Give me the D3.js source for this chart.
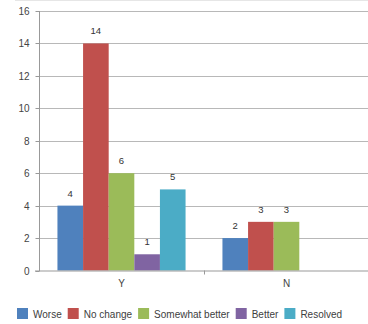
<!DOCTYPE html>
<html><head><meta charset="utf-8">
<script src="https://cdn.jsdelivr.net/npm/d3@7"></script>
<style>body{margin:0;background:#fff}svg{display:block}text{font-family:"Liberation Sans",Arial,sans-serif}</style>
</head><body><svg id="c" width="368" height="324"></svg>
<script>
const categories = ["Y", "N"];
const seriesNames = ["Worse", "No change", "Somewhat better", "Better", "Resolved"];
const seriesColors = ["#4F81BD", "#C0504D", "#9BBB59", "#8064A2", "#4BACC6"];
const worse = [4, 2];
const noChange = [14, 3];
const somewhatBetter = [6, 3];
const better = [1, 0];
const resolved = [5, 0];
const yTicks = [0, 2, 4, 6, 8, 10, 12, 14, 16];

const seriesValues = [worse, noChange, somewhatBetter, better, resolved];
const svg = d3.select("#c");
const mLeft = 39, mRight = 369, mTop = 11, mBottom = 270.5;

svg.append("line").attr("x1", 15).attr("x2", 368).attr("y1", 0.5).attr("y2", 0.5)
  .attr("stroke", "#e6e6e6");

const y = d3.scaleLinear().domain([0, 16]).range([mBottom, mTop]);
const x0 = d3.scaleBand().domain(categories).range([mLeft, mRight]);
const x1 = d3.scaleBand().domain(seriesNames).range([0, x0.bandwidth()]).paddingInner(0).paddingOuter(0.72);

// gridlines
svg.append("g").selectAll("line").data(yTicks.filter(t => t > 0)).join("line")
  .attr("x1", mLeft).attr("x2", 368)
  .attr("y1", d => Math.round(y(d)) + 0.5).attr("y2", d => Math.round(y(d)) + 0.5)
  .attr("stroke", "#b8b8b8");

// y axis
const ya = svg.append("g").attr("transform", `translate(${mLeft + 0.5},0)`)
  .call(d3.axisLeft(y).tickValues(yTicks).tickSize(4).tickPadding(6).tickFormat(d3.format("d")));
ya.select(".domain").attr("stroke", "#999").attr("d", `M0,${mTop}V${mBottom + 0.5}`);
ya.selectAll(".tick line").attr("stroke", "#999");
ya.selectAll(".tick text").attr("fill", "#444").style("font-size", "10px");
ya.selectAll(".tick").attr("transform", d => `translate(0,${Math.round(y(d)) + 0.5})`);

// bars
const groups = svg.append("g").selectAll("g").data(categories).join("g")
  .attr("transform", c => `translate(${x0(c)},0)`);
seriesNames.forEach((s, si) => {
  const sel = groups.filter((c, ci) => seriesValues[si][ci] > 0);
  sel.append("rect")
    .attr("x", x1(s)).attr("width", x1.bandwidth())
    .attr("y", c => y(seriesValues[si][categories.indexOf(c)]))
    .attr("height", c => mBottom - y(seriesValues[si][categories.indexOf(c)]))
    .attr("fill", seriesColors[si]);
  sel.append("text")
    .attr("x", x1(s) + x1.bandwidth() / 2)
    .attr("y", c => y(seriesValues[si][categories.indexOf(c)]) - 9)
    .attr("text-anchor", "middle").attr("fill", "#333").style("font-size", "9.5px")
    .text(c => seriesValues[si][categories.indexOf(c)]);
});

// x axis
const xa = svg.append("g").attr("transform", `translate(0,${mBottom + 0.5})`)
  .call(d3.axisBottom(x0).tickSize(0).tickPadding(9));
xa.select(".domain").attr("stroke", "#999").attr("d", `M${mLeft - 4},0H368`);
xa.selectAll(".tick text").attr("fill", "#444").style("font-size", "10px");
svg.append("g").selectAll("line").data(categories.slice(1)).join("line")
  .attr("x1", c => Math.round(x0(c)) + 0.5).attr("x2", c => Math.round(x0(c)) + 0.5)
  .attr("y1", mBottom).attr("y2", mBottom + 4).attr("stroke", "#999");

// legend
const lg = svg.append("g").attr("transform", "translate(17,308)");
let cx = 0;
seriesNames.forEach((s, i) => {
  lg.append("rect").attr("x", cx).attr("y", 0).attr("width", 11).attr("height", 11).attr("fill", seriesColors[i]);
  const t = lg.append("text").attr("x", cx + 16).attr("y", 10).attr("fill", "#404040")
    .style("font-size", "10px").text(s);
  cx += 16 + t.node().getComputedTextLength() + 6;
});
</script></body></html>
